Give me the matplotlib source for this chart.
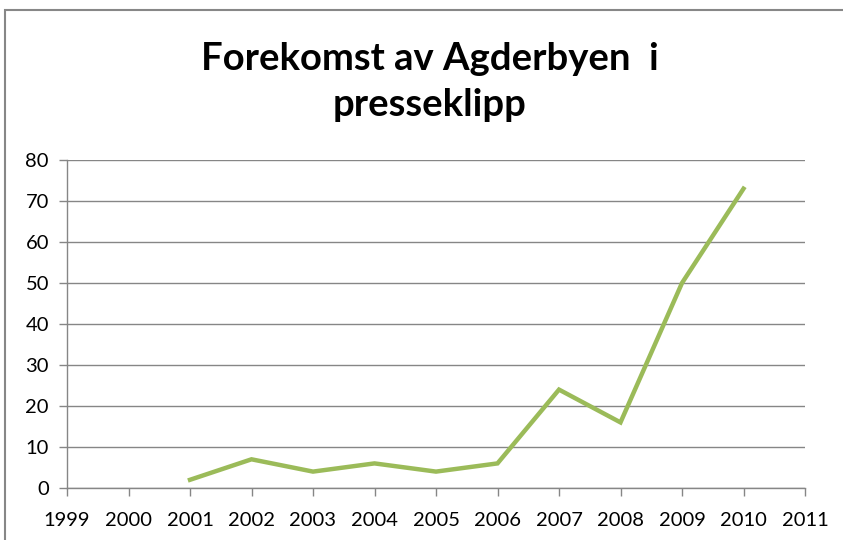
import matplotlib
matplotlib.use("Agg")
import matplotlib.pyplot as plt
from matplotlib.patches import Rectangle

years = [2001, 2002, 2003, 2004, 2005, 2006, 2007, 2008, 2009, 2010]
counts = [2, 7, 4, 6, 4, 6, 24, 16, 50, 73]
xticks = list(range(1999, 2012))
yticks = [0, 10, 20, 30, 40, 50, 60, 70, 80]
title = "Forekomst av Agderbyen  i\npresseklipp"

plt.rcParams['font.family'] = ['Lato', 'DejaVu Sans']

fig = plt.figure(figsize=(8.43, 5.40), dpi=100)
W, H = 843, 540
ax = fig.add_axes([67 / W, 1 - 488 / H, (805 - 67) / W, (488 - 160) / H])

ax.plot(years, counts, color='#9BBB59', linewidth=3.2, solid_joinstyle='miter')

ax.set_xlim(1999, 2011)
ax.set_ylim(0, 80)
ax.set_xticks(xticks)
ax.set_xticklabels([str(x) for x in xticks])
ax.set_yticks(yticks)
ax.yaxis.grid(True, color='#868686', linewidth=1.0)
ax.set_axisbelow(True)
for s in ['top', 'right']:
    ax.spines[s].set_visible(False)
for s in ['left', 'bottom']:
    ax.spines[s].set_color('#868686')
    ax.spines[s].set_linewidth(1.0)
ax.tick_params(axis='both', colors='#868686', labelcolor='black', labelsize=14.5,
               length=6, width=1.0)
ax.tick_params(axis='x', pad=11)
ax.tick_params(axis='y', pad=7)

fig.text(430 / W, 1 - 82 / H, title, ha='center', va='center', fontsize=27.5,
         fontweight='bold', linespacing=1.42)

fig.add_artist(Rectangle((5 / W, -0.1), 1.2, 1 - 10 / H + 0.1, transform=fig.transFigure,
                         fill=False, edgecolor='#878787', linewidth=1.5))

fig.savefig('out.png', dpi=100)
